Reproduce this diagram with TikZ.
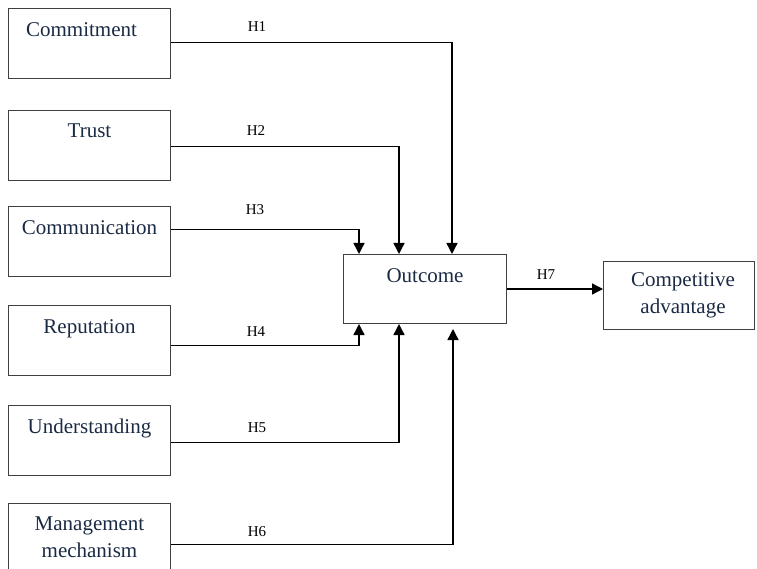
\documentclass[tikz,border=0pt]{standalone}
\usepackage{fontspec}
\setmainfont{Liberation Serif}
\usetikzlibrary{positioning,arrows.meta}
\definecolor{boxnavy}{HTML}{1B2A44}
\definecolor{boxedge}{HTML}{404040}
\tikzset{
 factor/.style = {draw=boxedge, line width=1pt, minimum width=162pt,
   minimum height=70pt, inner sep=0pt},
 factortext/.style = {text=boxnavy, font=\fontsize{21}{27}\selectfont,
   align=center, inner sep=0pt},
 hlabel/.style = {font=\fontsize{15}{18}\selectfont, inner sep=0pt},
 link/.style = {draw=black, line width=1.4pt, -{Triangle[width=11pt,length=11pt]}}
}
% #1 text shift, #2 name, #3 top edge, #4 text
\newcommand{\factorBox}[4][0pt]{
    \node[factor, anchor=north west] (#2) at (8, #3) {};
    \node[factortext, below=14pt of #2.north, xshift=#1] (#2_txt) {#4};
}

\begin{document}
\begin{tikzpicture}[x=1pt, y=-1pt]
    \useasboundingbox (0, 0) rectangle (757, 569);
    \factorBox[-8pt]{commit}{8}{Commitment}
    \factorBox{trust}{110}{Trust}
    \factorBox{comm}{206}{Communication}
    \factorBox{rep}{305}{Reputation}
    \factorBox{und}{405}{Understanding}
    \factorBox{mgmt}{503}{Management\\mechanism}

    \node[factor, minimum width=163pt, minimum height=69pt, anchor=north west]
        (outcome) at (343, 254) {};
    \node[factortext, below=14pt of outcome.north] (outcome_txt) {Outcome};
    \node[factor, minimum width=151pt, minimum height=68pt, anchor=north west]
        (compadv) at (603, 261) {};
    \node[factortext, xshift=4pt] (compadv_txt) at (compadv.center)
        {Competitive\\advantage};

    \draw[link] ([yshift=1pt]commit.east) -| ([xshift=109pt]outcome.north west);
    \draw[link] ([yshift=-1pt]trust.east) -| ([xshift=56pt]outcome.north west);
    \draw[link] ([yshift=12pt]comm.east) -| ([xshift=16pt]outcome.north west);
    \draw[link] ([yshift=-5pt]rep.east) -| ([xshift=16pt]outcome.south west);
    \draw[link] ([yshift=-2pt]und.east) -| ([xshift=56pt]outcome.south west);
    \draw[link] ([yshift=-6pt]mgmt.east) -| ([xshift=110pt, yshift=-5pt]outcome.south west);
    \draw[link] (outcome.east) -- (outcome.east -| compadv.west);

    \node[hlabel] (h1) at (257, 27) {H1};
    \node[hlabel] (h2) at (256, 131) {H2};
    \node[hlabel] (h3) at (255, 210) {H3};
    \node[hlabel] (h4) at (256, 332) {H4};
    \node[hlabel] (h5) at (257, 428) {H5};
    \node[hlabel] (h6) at (257, 532) {H6};
    \node[hlabel] (h7) at (546, 275) {H7};
\end{tikzpicture}
\end{document}
